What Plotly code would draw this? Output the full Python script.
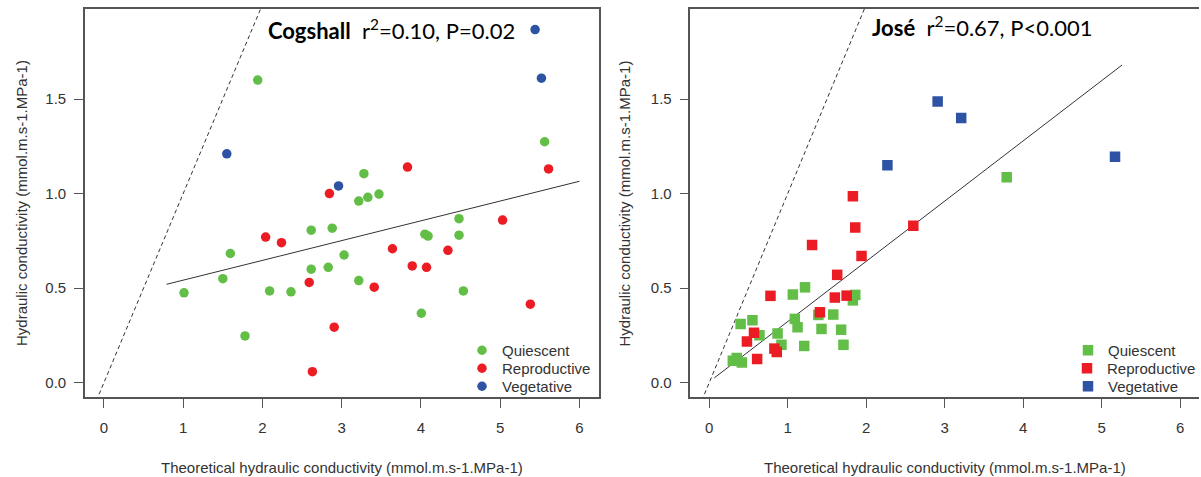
import plotly.graph_objects as go

# ---------------- data ----------------
# Cogshall (left panel)
cog_q_x = [1.01, 1.50, 1.595, 1.78, 1.94, 2.09, 2.36, 2.615, 2.615, 2.83, 2.88, 3.03, 3.215, 3.215,
           3.28, 3.33, 3.47, 4.005, 4.05, 4.09, 4.48, 4.48, 4.535, 5.56]
cog_q_y = [0.475, 0.55, 0.683, 0.247, 1.60, 0.485, 0.48, 0.60, 0.806, 0.61, 0.817, 0.675, 0.54, 0.96,
           1.105, 0.98, 0.997, 0.367, 0.785, 0.775, 0.867, 0.78, 0.485, 1.274]
cog_r_x = [2.04, 2.24, 2.59, 2.63, 2.845, 2.905, 3.41, 3.64, 3.83, 3.89, 4.07, 4.34, 5.03, 5.38, 5.61]
cog_r_y = [0.77, 0.74, 0.53, 0.058, 1.00, 0.293, 0.505, 0.708, 1.14, 0.617, 0.61, 0.70, 0.86, 0.415, 1.13]
cog_v_x = [1.55, 2.96, 5.44, 5.52]
cog_v_y = [1.21, 1.04, 1.867, 1.61]
cog_fit_x = [0.79, 6.0]
cog_fit_y = [0.52, 1.065]

# José (right panel)
jos_q_x = [0.30, 0.35, 0.415, 0.40, 0.55, 0.64, 0.87, 0.92, 1.065, 1.22, 1.09, 1.125, 1.21, 1.39,
           1.43, 1.58, 1.68, 1.71, 1.83, 1.86, 3.79]
jos_q_y = [0.116, 0.13, 0.107, 0.31, 0.33, 0.25, 0.26, 0.20, 0.466, 0.504, 0.337, 0.293, 0.194, 0.358,
           0.284, 0.36, 0.28, 0.20, 0.435, 0.464, 1.086]
jos_r_x = [0.48, 0.57, 0.61, 0.78, 0.83, 0.86, 1.31, 1.41, 1.60, 1.63, 1.75, 1.94, 1.83, 1.86, 2.60]
jos_r_y = [0.217, 0.264, 0.125, 0.459, 0.18, 0.162, 0.728, 0.372, 0.45, 0.57, 0.46, 0.67, 0.986, 0.82, 0.83]
jos_v_x = [2.27, 2.91, 3.21, 5.17]
jos_v_y = [1.15, 1.487, 1.40, 1.194]
jos_fit_x = [0.064, 5.26]
jos_fit_y = [0.025, 1.68]

one_to_one = [-0.3, 2.1]

x_ticks = [0, 1, 2, 3, 4, 5, 6]
y_ticks = [0.0, 0.5, 1.0, 1.5]
y_ticktext = ["0.0", "0.5", "1.0", "1.5"]

series_names = ["Quiescent", "Reproductive", "Vegetative"]
colors = ["#62BE46", "#EC1C24", "#2E52A4"]

x_title = "Theoretical hydraulic conductivity (mmol.m.s-1.MPa-1)"
y_title = "Hydraulic conductivity (mmol.m.s-1.MPa-1)"
title_left = "<b>Cogshall</b>  r<sup>2</sup>=0.10, P=0.02"
title_right = "<b>José</b>  r<sup>2</sup>=0.67, P&lt;0.001"

# ---------------- figure ----------------
W, H = 1201, 477
fig = go.Figure()

AXC = "#555555"
TXT = "#333333"
FONT = "Liberation Sans, Arial, sans-serif"

# reference lines
for xa, ya, fx, fy in [("x", "y", cog_fit_x, cog_fit_y), ("x2", "y2", jos_fit_x, jos_fit_y)]:
    fig.add_trace(go.Scatter(x=one_to_one, y=one_to_one, mode="lines", xaxis=xa, yaxis=ya,
                             line=dict(color="#333333", width=1, dash="4px,3px"),
                             showlegend=False, hoverinfo="skip"))
    fig.add_trace(go.Scatter(x=fx, y=fy, mode="lines", xaxis=xa, yaxis=ya,
                             line=dict(color="#333333", width=1),
                             showlegend=False, hoverinfo="skip"))

left_sets = [(cog_q_x, cog_q_y), (cog_r_x, cog_r_y), (cog_v_x, cog_v_y)]
right_sets = [(jos_q_x, jos_q_y), (jos_r_x, jos_r_y), (jos_v_x, jos_v_y)]

legend_names = ["legend", "legend2", "legend3", "legend4", "legend5", "legend6"]

for i, ((xs, ys), name, c) in enumerate(zip(left_sets, series_names, colors)):
    fig.add_trace(go.Scatter(x=xs, y=ys, mode="markers", name=name, xaxis="x", yaxis="y",
                             marker=dict(color=c, size=9.5, symbol="circle", line=dict(width=0)),
                             legend=legend_names[i]))
for i, ((xs, ys), name, c) in enumerate(zip(right_sets, series_names, colors)):
    fig.add_trace(go.Scatter(x=xs, y=ys, mode="markers", name=name, xaxis="x2", yaxis="y2",
                             marker=dict(color=c, size=10.5, symbol="square", line=dict(width=0)),
                             legend=legend_names[3 + i]))

def xax(dom, mirror):
    return dict(domain=dom, range=[-0.24, 6.24], tickmode="array", tickvals=x_ticks,
                ticks="outside", ticklen=9, tickwidth=1.2, tickcolor=AXC,
                showline=True, linecolor=AXC, linewidth=1.5, mirror=mirror,
                showgrid=False, zeroline=False, automargin=False,
                tickfont=dict(family=FONT, size=15, color=TXT), ticklabelstandoff=7)

def yax(anchor, mirror):
    return dict(domain=[(H - 397) / H, (H - 9) / H], range=[-0.076, 1.976], anchor=anchor,
                tickmode="array", tickvals=y_ticks, ticktext=y_ticktext,
                ticks="outside", ticklen=9, tickwidth=1.2, tickcolor=AXC,
                showline=True, linecolor=AXC, linewidth=1.5, mirror=mirror,
                showgrid=False, zeroline=False, automargin=False,
                tickfont=dict(family=FONT, size=15, color=TXT), ticklabelstandoff=5)

def leg(x_text_px, row_center_px):
    return dict(x=(x_text_px - 39) / W, y=(H - (row_center_px - 16)) / H,
                xanchor="left", yanchor="top",
                bgcolor="rgba(0,0,0,0)", borderwidth=0, tracegroupgap=0,
                font=dict(family=FONT, size=15, color=TXT))

rows = [350, 368, 386]
fig.update_layout(
    width=W, height=H,
    margin=dict(l=0, r=0, t=0, b=0),
    paper_bgcolor="white", plot_bgcolor="white",
    xaxis=dict(**xax([85 / W, 599 / W], True), anchor="y"),
    yaxis=yax("x", True),
    xaxis2=dict(**xax([691 / W, 1200 / W], True), anchor="y2"),
    yaxis2=yax("x2", False),
    legend=leg(501, rows[0]),
    legend2=leg(501, rows[1]),
    legend3=leg(501, rows[2]),
    legend4=leg(1107, rows[0]),
    legend5=leg(1107, rows[1]),
    legend6=leg(1107, rows[2]),
    showlegend=True,
)

ann = []
for cx in [(85 + 599) / 2, (691 + 1200) / 2]:
    ann.append(dict(text=x_title, x=cx / W, y=(H - 467) / H, xref="paper", yref="paper",
                    xanchor="center", yanchor="middle", showarrow=False,
                    font=dict(family=FONT, size=15, color=TXT)))
for cx in [21, 625]:
    ann.append(dict(text=y_title, x=cx / W, y=(H - 203) / H, xref="paper", yref="paper",
                    xanchor="center", yanchor="middle", showarrow=False, textangle=-90,
                    font=dict(family=FONT, size=15, color=TXT)))
ann.append(dict(text=title_left, x=266 / W, y=(H - 30) / H, xref="paper", yref="paper",
                xanchor="left", yanchor="middle", showarrow=False,
                font=dict(family="Lato, sans-serif", size=22, color="black")))
ann.append(dict(text=title_right, x=871 / W, y=(H - 27) / H, xref="paper", yref="paper",
                xanchor="left", yanchor="middle", showarrow=False,
                font=dict(family="Lato, sans-serif", size=22, color="black")))
fig.update_layout(annotations=ann)

fig.write_html("out.html", config={"displayModeBar": False},
               post_script="document.body.style.margin='0';document.body.style.overflow='hidden';")
